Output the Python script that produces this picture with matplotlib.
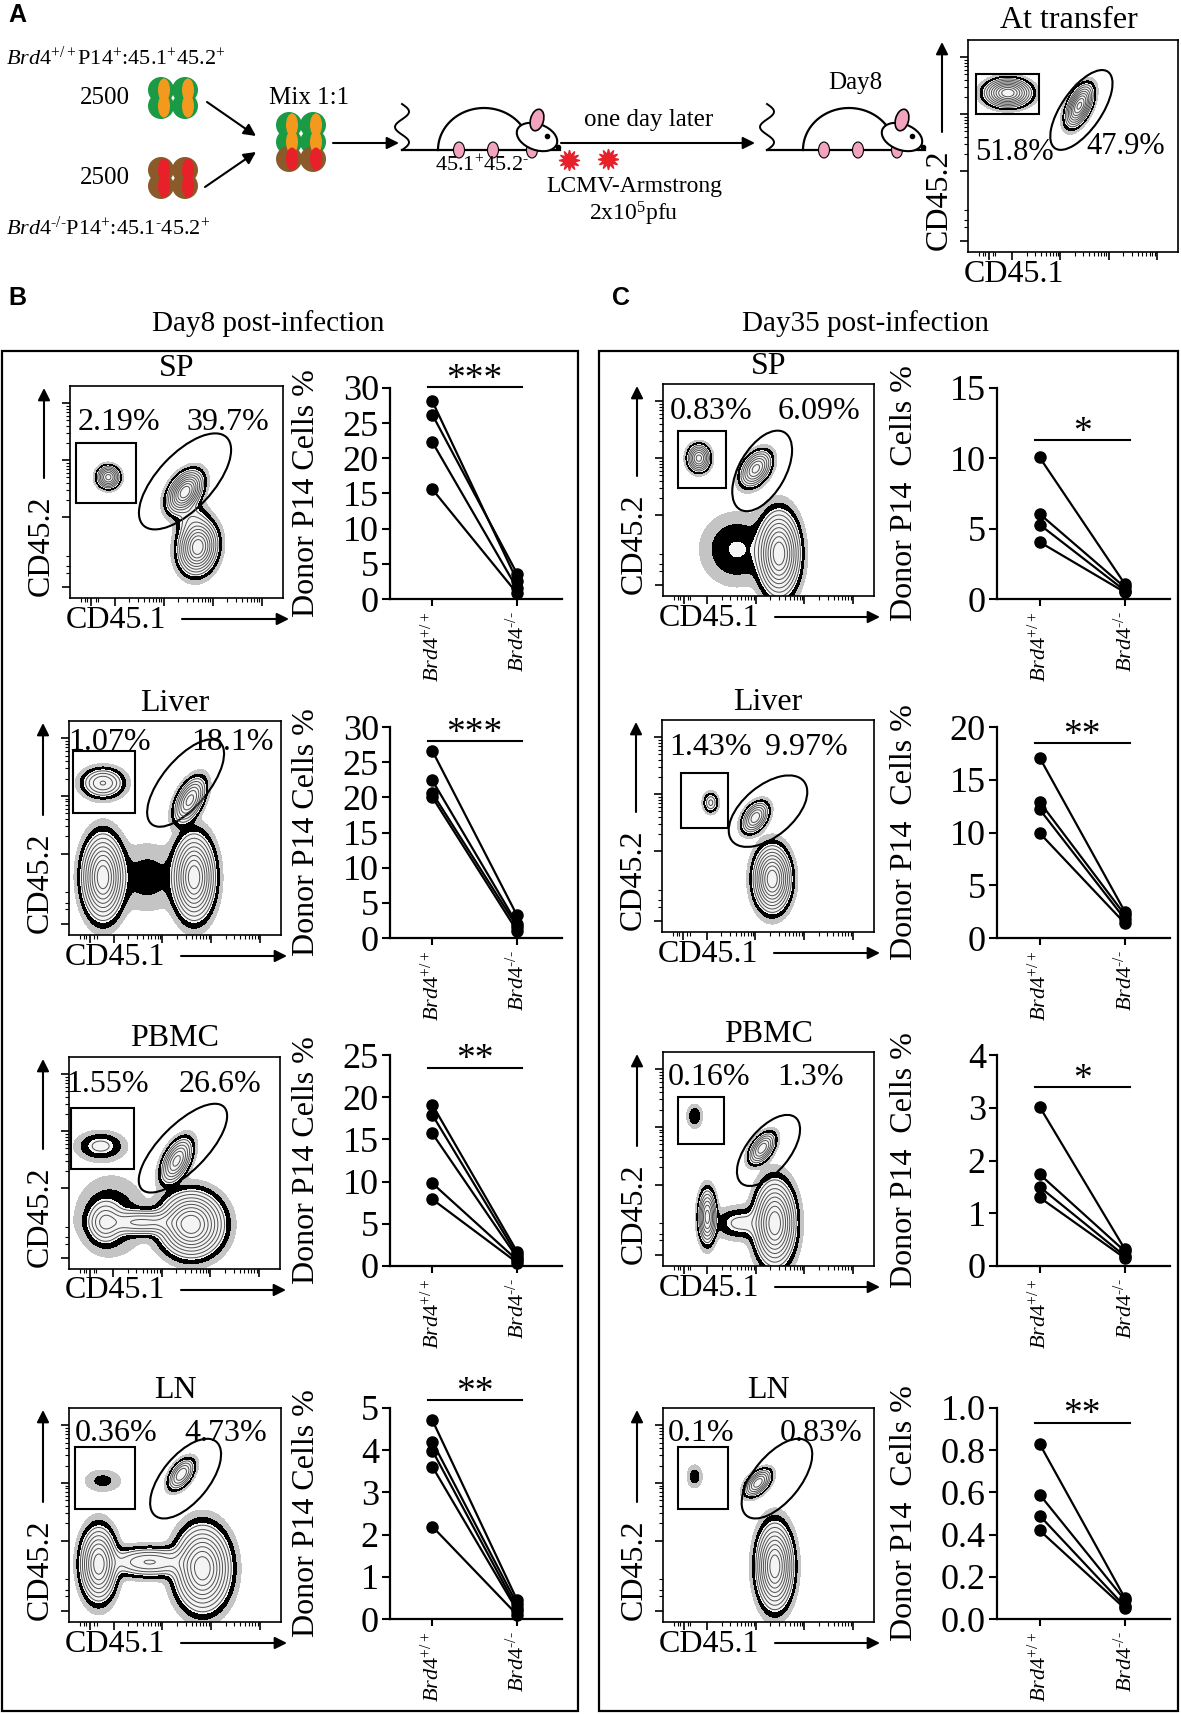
import numpy as np
import matplotlib
matplotlib.use('Agg')
import matplotlib.pyplot as plt
from matplotlib.patches import Rectangle, Ellipse, Circle

plt.rcParams['font.family'] = ['Liberation Serif', 'DejaVu Serif']
plt.rcParams['mathtext.fontset'] = 'custom'
plt.rcParams['mathtext.rm'] = 'Liberation Serif'
plt.rcParams['mathtext.it'] = 'Liberation Serif:italic'

W, H = 1181, 1714
HY = '\u2010'  # plain hyphen, mathtext would turn '-' into a long minus

# ---- paired plots: donor P14 cells % (WT vs KO, one line per mouse) ----
groups = [r'$\mathit{Brd4}^{+/+}$', r'$\mathit{Brd4}^{' + HY + '/' + HY + '}$']

sp8_wt = [28.1, 26.2, 22.3, 15.6]
sp8_ko = [2.6, 3.6, 1.5, 0.8]
liver8_wt = [26.6, 22.4, 20.6, 20.0]
liver8_ko = [3.2, 2.0, 1.6, 1.0]
pbmc8_wt = [19.1, 17.9, 15.7, 9.8, 7.9]
pbmc8_ko = [1.7, 1.3, 1.0, 0.7, 0.4]
ln8_wt = [4.71, 4.20, 3.99, 3.61, 2.19]
ln8_ko = [0.45, 0.35, 0.25, 0.20, 0.10]

sp35_wt = [10.07, 6.05, 5.29, 4.05]
sp35_ko = [1.07, 0.83, 0.60, 0.48]
liver35_wt = [17.1, 12.9, 12.2, 9.95]
liver35_ko = [2.5, 2.2, 1.8, 1.4]
pbmc35_wt = [3.02, 1.74, 1.50, 1.30]
pbmc35_ko = [0.32, 0.28, 0.19, 0.15]
ln35_wt = [0.83, 0.59, 0.49, 0.42]
ln35_ko = [0.10, 0.09, 0.06, 0.05]

ymax8 = [30, 30, 25, 5]
ystep8 = [5, 5, 5, 1]
sig8 = ['***', '***', '**', '**']
sig8_y = [30.1, 28.0, 23.5, 5.19]

ymax35 = [15, 20, 4, 1.0]
ystep35 = [5, 5, 1, 0.2]
sig35 = ['*', '**', '*', '**']
sig35_y = [11.3, 18.5, 3.39, 0.93]

tissues = ['SP', 'Liver', 'PBMC', 'LN']

# ---- flow plots: gate percentages ----
pct8_left = ['2.19%', '1.07%', '1.55%', '0.36%']
pct8_right = ['39.7%', '18.1%', '26.6%', '4.73%']
pct35_left = ['0.83%', '1.43%', '0.16%', '0.1%']
pct35_right = ['6.09%', '9.97%', '1.3%', '0.83%']
pct_transfer = ['51.8%', '47.9%']

# populations: x, y, sx, sy, rho, peak
pops_transfer = [(0.19, 0.75, 0.05, 0.03, 0.0, 1.0),
                 (0.53, 0.69, 0.03, 0.045, 0.5, 0.9)]
pops8 = [
    [(0.18, 0.57, 0.025, 0.025, 0.0, 0.6),
     (0.54, 0.50, 0.038, 0.045, 0.4, 1.0),
     (0.60, 0.24, 0.042, 0.058, 0.1, 1.0),
     (0.57, 0.37, 0.04, 0.05, 0.0, 0.1)],
    [(0.16, 0.71, 0.05, 0.035, 0.0, 0.3),
     (0.57, 0.63, 0.035, 0.05, 0.5, 0.6),
     (0.16, 0.27, 0.045, 0.09, 0.0, 1.0),
     (0.59, 0.27, 0.045, 0.09, 0.0, 1.0),
     (0.37, 0.27, 0.09, 0.09, 0.0, 0.045)],
    [(0.15, 0.58, 0.06, 0.035, 0.0, 0.1),
     (0.51, 0.51, 0.035, 0.05, 0.5, 0.6),
     (0.58, 0.21, 0.07, 0.07, 0.0, 1.0),
     (0.17, 0.22, 0.04, 0.05, 0.0, 0.25),
     (0.35, 0.22, 0.10, 0.03, 0.0, 0.3),
     (0.20, 0.25, 0.09, 0.10, 0.0, 0.06)],
    [(0.16, 0.66, 0.05, 0.03, 0.0, 0.04),
     (0.53, 0.69, 0.03, 0.035, 0.5, 0.4),
     (0.14, 0.27, 0.04, 0.08, 0.0, 0.8),
     (0.63, 0.25, 0.06, 0.09, 0.0, 1.0),
     (0.38, 0.28, 0.10, 0.035, 0.0, 0.3)],
]
pops35 = [
    [(0.17, 0.65, 0.025, 0.03, 0.0, 0.6),
     (0.44, 0.60, 0.035, 0.04, 0.4, 0.6),
     (0.55, 0.20, 0.045, 0.09, 0.0, 1.0),
     (0.35, 0.22, 0.09, 0.09, 0.0, 0.07)],
    [(0.23, 0.61, 0.018, 0.025, 0.0, 0.15),
     (0.44, 0.54, 0.03, 0.035, 0.4, 0.5),
     (0.52, 0.25, 0.04, 0.07, 0.0, 1.0)],
    [(0.15, 0.70, 0.02, 0.03, 0.0, 0.06),
     (0.47, 0.55, 0.03, 0.035, 0.5, 0.5),
     (0.53, 0.20, 0.045, 0.09, 0.0, 1.0),
     (0.21, 0.23, 0.02, 0.06, 0.0, 0.6),
     (0.37, 0.20, 0.07, 0.04, 0.0, 0.1)],
    [(0.15, 0.68, 0.02, 0.03, 0.0, 0.05),
     (0.45, 0.65, 0.03, 0.03, 0.5, 0.5),
     (0.53, 0.26, 0.04, 0.09, 0.0, 1.0)],
]

# gates: rectangle (x0, y0, x1, y1) and ellipse (cx, cy, w, h, angle), axes units
rect_transfer = (0.04, 0.65, 0.34, 0.84)
ell_transfer = (0.54, 0.67, 0.44, 0.19, 55)
rects8 = [(0.03, 0.45, 0.31, 0.73), (0.02, 0.57, 0.31, 0.86),
          (0.01, 0.47, 0.31, 0.76), (0.03, 0.53, 0.31, 0.82)]
ells8 = [(0.54, 0.55, 0.57, 0.26, 47), (0.55, 0.71, 0.50, 0.22, 50),
         (0.54, 0.57, 0.55, 0.22, 45), (0.55, 0.67, 0.45, 0.22, 50)]
rects35 = [(0.07, 0.51, 0.30, 0.78), (0.09, 0.49, 0.31, 0.75),
           (0.07, 0.57, 0.29, 0.79), (0.07, 0.53, 0.31, 0.82)]
ells35 = [(0.47, 0.59, 0.42, 0.22, 60), (0.50, 0.57, 0.44, 0.24, 40),
          (0.50, 0.54, 0.40, 0.20, 50), (0.54, 0.67, 0.45, 0.22, 50)]

# layout in pixels (left, top, width, height)
flow8_boxes = [(70, 386, 213, 212), (69, 721, 212, 214),
               (69, 1057, 211, 212), (69, 1408, 212, 214)]
flow35_boxes = [(663, 384, 211, 212), (662, 720, 212, 212),
                (663, 1052, 211, 214), (663, 1408, 211, 214)]
pct8_x = [(0.23, 0.74), (0.19, 0.77), (0.185, 0.715), (0.22, 0.74)]
pct35_x = [(0.23, 0.74), (0.23, 0.68), (0.22, 0.70), (0.18, 0.75)]
pct8_y = [0.83, 0.90, 0.87, 0.88]
pct35_y = [0.87, 0.87, 0.88, 0.88]
pair_tops = [388, 727, 1055, 1408]
pair_h = 211

fig = plt.figure(figsize=(W / 100, H / 100), dpi=100)
ov = fig.add_axes([0, 0, 1, 1])
ov.set_xlim(0, W)
ov.set_ylim(H, 0)
ov.axis('off')


def frac(l, t, w, h):
    return [l / W, 1 - (t + h) / H, w / W, h / H]


def arrow(x0, y0, x1, y1, lw=1.5, ms=18):
    ov.annotate('', xy=(x1, y1), xytext=(x0, y0),
                arrowprops=dict(arrowstyle='-|>', color='black', lw=lw,
                                mutation_scale=ms, shrinkA=0, shrinkB=0))


gx, gy = np.meshgrid(np.linspace(0, 1, 300), np.linspace(0, 1, 300))


def flow_panel(box, pops, rect, ell, pcts, pct_x, pct_y, title=None, fs=23):
    l, t, w, h = box
    ax = fig.add_axes(frac(l, t, w, h))
    z = np.zeros_like(gx)
    for x, y, sx, sy, rho, amp in pops:
        dx = (gx - x) / sx
        dy = (gy - y) / sy
        q = (dx ** 2 - 2 * rho * dx * dy + dy ** 2) / (1 - rho ** 2)
        z += amp * np.exp(-0.5 * q)
    ax.contourf(gx, gy, z, levels=[0.01, 0.03], colors=['#c4c4c4'])
    ax.contourf(gx, gy, z, levels=[0.03, 0.065], colors=['black'])
    ax.contourf(gx, gy, z, levels=[0.065, 100], colors=['#f4f4f4'])
    ax.contour(gx, gy, z, levels=[0.08, 0.13, 0.2, 0.29, 0.4, 0.53, 0.68, 0.84],
               colors='#505050', linewidths=0.7)
    ax.add_patch(Rectangle((rect[0], rect[1]), rect[2] - rect[0], rect[3] - rect[1],
                           fill=False, ec='black', lw=1.5))
    ax.add_patch(Ellipse((ell[0], ell[1]), ell[2], ell[3], angle=ell[4],
                         fill=False, ec='black', lw=1.5))
    ax.set_xlim(0, 1)
    ax.set_ylim(0, 1)
    dec = np.log10(np.arange(2, 10))
    xmaj = [0.1, 0.21, 0.44, 0.67, 0.9]
    xmin = [0.05, 0.07, 0.08, 0.12, 0.13] + [s + 0.23 * d for s in (0.21, 0.44, 0.67) for d in dec]
    ymaj = [0.05, 0.38, 0.65, 0.92]
    ymin = [0.12, 0.15, 0.2] + [s + 0.27 * d for s in (0.38, 0.65) for d in dec]
    ax.set_xticks(xmaj)
    ax.set_xticks([v for v in xmin if v < 1], minor=True)
    ax.set_yticks(ymaj)
    ax.set_yticks([v for v in ymin if v < 1], minor=True)
    ax.tick_params(which='both', direction='out', labelbottom=False, labelleft=False)
    ax.tick_params(which='major', length=6, width=1.2)
    ax.tick_params(which='minor', length=3, width=0.8)
    for s in ax.spines.values():
        s.set_linewidth(1.2)
    for txt, px in zip(pcts, pct_x):
        ax.text(px, pct_y, txt, ha='center', va='center', fontsize=fs, transform=ax.transAxes)
    if title:
        ov.text(l + w / 2, t - 18, title, ha='center', va='center', fontsize=23)
    # axis names with arrows
    ov.text(l - 29, t + h - 2, 'CD45.2', rotation=90, ha='center', va='bottom', fontsize=23)
    arrow(l - 26, t + h - 120, l - 26, t + 2)
    ov.text(l - 4, t + h + 22, 'CD45.1', ha='left', va='center', fontsize=23)
    arrow(l + 112, t + h + 21, l + w + 6, t + h + 21)
    return ax


def paired_panel(l, t, w, wt, ko, ymax, ystep, sig, sig_y, ylabel, lab_off):
    ax = fig.add_axes(frac(l, t, w, pair_h))
    for a, b in zip(wt, ko):
        ax.plot([0, 1], [a, b], color='black', lw=1.6, marker='o', ms=8, clip_on=False, zorder=3)
    ax.set_xlim(-0.5, 1.53)
    ax.set_ylim(0, ymax)
    ticks = np.arange(0, ymax + ystep / 2, ystep)
    ax.set_yticks(ticks)
    if ystep < 1:
        ax.set_yticklabels(['%.1f' % v for v in ticks])
    else:
        ax.set_yticklabels(['%d' % v for v in ticks])
    ax.set_xticks([0, 1])
    ax.set_xticklabels(groups, rotation=90, fontsize=16)
    ax.tick_params(axis='y', labelsize=26, direction='out', length=6, width=1.5, pad=2)
    ax.tick_params(axis='x', direction='out', length=5, width=1.5, pad=4)
    for s in ['top', 'right']:
        ax.spines[s].set_visible(False)
    for s in ['left', 'bottom']:
        ax.spines[s].set_linewidth(1.6)
    ax.set_ylabel(ylabel, fontsize=23)
    ax.yaxis.set_label_coords(-lab_off / w, 0.5)
    ax.plot([-0.05, 1.06], [sig_y, sig_y], color='black', lw=1.5, clip_on=False)
    ax.annotate(sig, xy=(0.5, sig_y), xytext=(0, -7), textcoords='offset points',
                ha='center', va='bottom', fontsize=27, annotation_clip=False)
    return ax


# ---- panel A schematic ----
ov.text(8, 15, 'A', fontsize=18, fontweight='bold', family='Liberation Sans', va='center')
ov.text(6, 58, r'$\mathit{Brd4}^{+/+}$P14$^{+}$:45.1$^{+}$45.2$^{+}$', fontsize=16, va='center')
ov.text(6, 228, r'$\mathit{Brd4}^{' + HY + '/' + HY + '}$P14$^{+}$:45.1$^{' + HY + '}$45.2$^{+}$',
        fontsize=16, va='center')
ov.text(105, 98, '2500', fontsize=18, ha='center', va='center')
ov.text(105, 178, '2500', fontsize=18, ha='center', va='center')


def cell_group(cx, cy, outer, inner, rows=((-8, 'a'), (8, 'a'))):
    for dy, kind in rows:
        oc, ic = (outer, inner) if kind == 'a' else ('#8b5a2b', '#e8202a')
        for dx in (-12, 12):
            ov.add_patch(Circle((cx + dx, cy + dy), 13, fc=oc, ec='none', zorder=2))
        for dx in (-12, 12):
            ov.add_patch(Ellipse((cx + dx + 3, cy + dy), 12, 23, fc=ic, ec='none', zorder=3))


cell_group(173, 98, '#1a9a45', '#f39a1e')
cell_group(173, 178, '#8b5a2b', '#e8202a')
cell_group(301, 142, '#1a9a45', '#f39a1e', rows=((-17, 'a'), (0, 'a'), (17, 'b')))
ov.text(309, 98, 'Mix 1:1', fontsize=18, ha='center', va='center')
arrow(207, 102, 256, 136)
arrow(205, 187, 256, 152)
arrow(333, 143, 399, 143)


def mouse(x0, y0):
    t_ = np.linspace(0, np.pi, 80)
    ov.plot(x0 + 92 + 46 * np.cos(t_), y0 - 42 * np.sin(t_), color='black', lw=1.6)
    ov.plot([x0 + 10, x0 + 168], [y0, y0], color='black', lw=1.6)
    s = np.linspace(0, 1, 60)
    ov.plot(x0 + 10 + 7 * np.sin(s * 3 * np.pi), y0 - 46 * s, color='black', lw=1.4)
    for fx in (x0 + 67, x0 + 101, x0 + 140):
        ov.add_patch(Ellipse((fx, y0), 11, 16, fc='#f2a3bd', ec='black', lw=0.8, zorder=3))
    ov.add_patch(Ellipse((x0 + 145, y0 - 13), 42, 26, angle=20, fc='white', ec='black', lw=1.5, zorder=4))
    ov.add_patch(Ellipse((x0 + 145, y0 - 30), 13, 22, angle=15, fc='#f2a3bd', ec='black', lw=1.2, zorder=5))
    ov.plot([x0 + 155], [y0 - 14], 'o', color='black', ms=3, zorder=6)
    ov.plot([x0 + 166], [y0 - 3], 'o', color='black', ms=3, zorder=6)


mouse(392, 150)
mouse(757, 150)
ov.text(482, 166, '45.1$^{+}$45.2$^{' + HY + '}$', fontsize=16, ha='center', va='center')
arrow(561, 143, 755, 143)
ov.text(649, 120, 'one day later', fontsize=18, ha='center', va='center')
ov.plot([569, 608], [160, 159], linestyle='none', marker=(12, 1, 0), ms=15, color='#e8202a')
ov.text(634, 186, 'LCMV-Armstrong', fontsize=17, ha='center', va='center')
ov.text(634, 214, '2x10$^{5}$pfu', fontsize=17, ha='center', va='center')
ov.text(855, 83, 'Day8', fontsize=18, ha='center', va='center')

# at transfer
ov.text(1069, 20, 'At transfer', fontsize=23, ha='center', va='center')
tb = (968, 40, 210, 212)
axt = flow_panel(tb, pops_transfer, rect_transfer, ell_transfer, [], [], 0)
axt.text(0.22, 0.47, pct_transfer[0], fontsize=22, ha='center', va='center', transform=axt.transAxes)
axt.text(0.75, 0.50, pct_transfer[1], fontsize=22, ha='center', va='center', transform=axt.transAxes)

# ---- panels B and C ----
ov.text(8, 298, 'B', fontsize=18, fontweight='bold', family='Liberation Sans', va='center')
ov.text(612, 298, 'C', fontsize=18, fontweight='bold', family='Liberation Sans', va='center')
ov.text(268, 324, 'Day8 post-infection', fontsize=21, ha='center', va='center')
ov.text(866, 324, 'Day35 post-infection', fontsize=21, ha='center', va='center')
ov.add_patch(Rectangle((2, 351), 576, 1360, fill=False, ec='black', lw=1.6))
ov.add_patch(Rectangle((599, 351), 579, 1360, fill=False, ec='black', lw=1.6))

wt8 = [sp8_wt, liver8_wt, pbmc8_wt, ln8_wt]
ko8 = [sp8_ko, liver8_ko, pbmc8_ko, ln8_ko]
wt35 = [sp35_wt, liver35_wt, pbmc35_wt, ln35_wt]
ko35 = [sp35_ko, liver35_ko, pbmc35_ko, ln35_ko]

for i in range(4):
    flow_panel(flow8_boxes[i], pops8[i], rects8[i], ells8[i],
               [pct8_left[i], pct8_right[i]], pct8_x[i], pct8_y[i], title=tissues[i])
    flow_panel(flow35_boxes[i], pops35[i], rects35[i], ells35[i],
               [pct35_left[i], pct35_right[i]], pct35_x[i], pct35_y[i], title=tissues[i])
    paired_panel(390, pair_tops[i], 172, wt8[i], ko8[i], ymax8[i], ystep8[i],
                 sig8[i], sig8_y[i], 'Donor P14 Cells %', 69)
    paired_panel(997, pair_tops[i], 173, wt35[i], ko35[i], ymax35[i], ystep35[i],
                 sig35[i], sig35_y[i], 'Donor P14  Cells %', 78)

fig.savefig('out.png', dpi=100)
